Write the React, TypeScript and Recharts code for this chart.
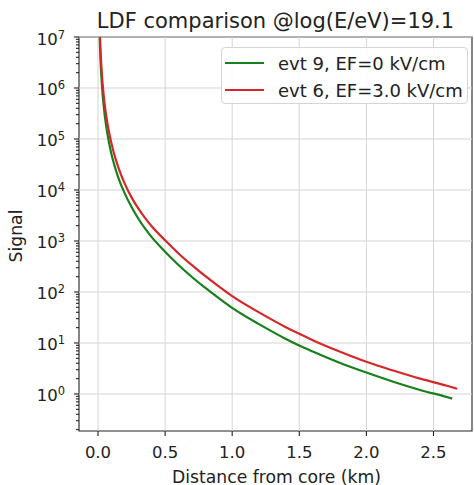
import React from 'react';
import {
  LineChart,
  Line,
  XAxis,
  YAxis,
  ReferenceLine,
  ReferenceArea,
  Legend,
  Customized,
} from 'recharts';

const TITLE = 'LDF comparison @log(E/eV)=19.1';
const X_LABEL = 'Distance from core (km)';
const Y_LABEL = 'Signal';
const SERIES_NAMES = ['evt 9, EF=0 kV/cm', 'evt 6, EF=3.0 kV/cm'];
const SERIES_COLORS = ['#16801a', '#d62728'];

const X_TICKS = [0, 0.5, 1.0, 1.5, 2.0, 2.5];
const X_TICK_LABELS = ['0.0', '0.5', '1.0', '1.5', '2.0', '2.5'];
const Y_EXPONENTS = [0, 1, 2, 3, 4, 5, 6, 7];
const Y_MINOR_MANTISSAS = [2, 3, 4, 5, 6, 7, 8, 9];

const X_DOMAIN: [number, number] = [-0.1416, 2.787];
const Y_DOMAIN: [number, number] = [0.188, 1e7];

// evt 9, EF=0
const RADIUS_EVT9 = [0.01, 0.015, 0.02, 0.03, 0.04, 0.05, 0.07, 0.1, 0.12, 0.15, 0.2, 0.25, 0.3, 0.35, 0.4, 0.5, 0.6, 0.7, 0.8, 0.9, 1.0, 1.2, 1.4, 1.5, 1.6, 1.8, 2.0, 2.2, 2.4, 2.6, 2.64];
const SIGNAL_EVT9 = [1.78e7, 6.3e6, 3.0e6, 1.07e6, 5.2e5, 2.95e5, 1.26e5, 5.1e4, 3.2e4, 1.79e4, 8470, 4630, 2760, 1760, 1190, 617, 339, 197, 120, 76, 49, 23.4, 12.0, 8.9, 6.8, 4.1, 2.63, 1.74, 1.2, 0.87, 0.81];

// evt 6, EF=3.0
const RADIUS_EVT6 = [0.01, 0.015, 0.02, 0.03, 0.04, 0.05, 0.07, 0.1, 0.12, 0.15, 0.2, 0.25, 0.3, 0.35, 0.4, 0.5, 0.6, 0.7, 0.8, 0.9, 1.0, 1.2, 1.4, 1.5, 1.6, 1.8, 2.0, 2.2, 2.4, 2.6, 2.677];
const SIGNAL_EVT6 = [2.6e7, 9.5e6, 4.7e6, 1.7e6, 8.3e5, 4.7e5, 2.04e5, 8.3e4, 5.13e4, 2.84e4, 1.32e4, 7160, 4345, 2845, 1945, 1030, 569, 335, 204, 129, 83, 39.8, 20.4, 15.1, 11.35, 6.8, 4.27, 2.88, 2.0, 1.45, 1.27];

const evt9 = RADIUS_EVT9.map((r, i) => ({ r, s: SIGNAL_EVT9[i] }));
const evt6 = RADIUS_EVT6.map((r, i) => ({ r, s: SIGNAL_EVT6[i] }));

const majorTicks = Y_EXPONENTS.map((e) => Math.pow(10, e));
const minorTicks: number[] = [];
[-1, ...Y_EXPONENTS].forEach((e) =>
  Y_MINOR_MANTISSAS.forEach((m) => {
    const v = m * Math.pow(10, e);
    if (v >= Y_DOMAIN[0] && v <= Y_DOMAIN[1]) minorTicks.push(v);
  })
);
const yTicks = [...majorTicks, ...minorTicks].sort((a, b) => a - b);

const FONT = '"DejaVu Sans", sans-serif';
const INK = '#222';

const YTick = (props: any) => {
  const { x, y, payload } = props;
  const exp = Math.log10(payload.value);
  const major = Math.abs(exp - Math.round(exp)) < 1e-6;
  return (
    <g>
      <line x1={x - (major ? 5 : 3)} x2={x} y1={y} y2={y} stroke={INK} strokeWidth={1.1} />
      {major && (
        <text x={x - 14} y={y + 7.5} textAnchor="end" fontSize={16.5} fontFamily={FONT} fill={INK}>
          <tspan>10</tspan>
          <tspan dy={-6} fontSize={11.5}>{Math.round(exp)}</tspan>
        </text>
      )}
    </g>
  );
};

const XTick = (props: any) => {
  const { x, y, payload, index } = props;
  return (
    <g>
      <line x1={x} x2={x} y1={y} y2={y + 5} stroke={INK} strokeWidth={1.1} />
      <text x={x} y={y + 27} textAnchor="middle" fontSize={16.5} fontFamily={FONT} fill={INK}>
        {X_TICK_LABELS[index] ?? payload.value}
      </text>
    </g>
  );
};

const LegendBox = (props: any) => {
  const items = [...(props.payload || [])].sort(
    (a: any, b: any) => SERIES_NAMES.indexOf(a.value) - SERIES_NAMES.indexOf(b.value)
  );
  return (
    <div
      style={{
        boxSizing: 'border-box',
        width: 247,
        height: 57,
        border: '1px solid #d5d5d5',
        borderRadius: 4,
        background: 'rgba(255,255,255,0.85)',
        fontFamily: FONT,
        fontSize: 18,
        color: INK,
        position: 'relative',
      }}
    >
      {items.map((it: any, i: number) => (
        <div key={i} style={{ position: 'absolute', left: 3, top: 4 + i * 27, height: 22, display: 'flex', alignItems: 'center' }}>
          <svg width={40} height={22}>
            <line x1={0} x2={39} y1={11} y2={11} stroke={it.color} strokeWidth={2.2} />
          </svg>
          <span style={{ marginLeft: 13, whiteSpace: 'nowrap' }}>{it.value}</span>
        </div>
      ))}
    </div>
  );
};

const Texts = () => (
  <g fontFamily={FONT} fill={INK}>
    <text x={275.5} y={28.3} textAnchor="middle" fontSize={21}>{TITLE}</text>
    <text x={276.5} y={482.5} textAnchor="middle" fontSize={17.2}>{X_LABEL}</text>
    <text x={22} y={236} textAnchor="middle" fontSize={17.2} transform="rotate(-90, 22, 236)">{Y_LABEL}</text>
  </g>
);

export default function App() {
  return (
    <div style={{ position: 'absolute', left: 0, top: 0, background: '#fff' }}>
      <LineChart width={474} height={485} margin={{ top: 37, right: 2, bottom: 0, left: 0 }}>
        <XAxis
          dataKey="r"
          type="number"
          domain={X_DOMAIN}
          allowDataOverflow
          ticks={X_TICKS}
          interval={0}
          axisLine={false}
          tickLine={false}
          tickSize={0}
          tickMargin={0}
          height={54}
          tick={<XTick />}
        />
        <YAxis
          dataKey="s"
          type="number"
          scale="log"
          domain={Y_DOMAIN}
          allowDataOverflow
          ticks={yTicks}
          interval={0}
          axisLine={false}
          tickLine={false}
          tickSize={0}
          tickMargin={0}
          width={79}
          tick={<YTick />}
        />
        {majorTicks.map((v) => (
          <ReferenceLine key={'h' + v} y={v} stroke="#d4d4d4" strokeWidth={1} />
        ))}
        {X_TICKS.map((v) => (
          <ReferenceLine key={'v' + v} x={v} stroke="#d4d4d4" strokeWidth={1} />
        ))}
        <Line data={evt9} dataKey="s" name={SERIES_NAMES[0]} type="monotone" stroke={SERIES_COLORS[0]} strokeWidth={2.2} dot={false} isAnimationActive={false} />
        <Line data={evt6} dataKey="s" name={SERIES_NAMES[1]} type="monotone" stroke={SERIES_COLORS[1]} strokeWidth={2.2} dot={false} isAnimationActive={false} />
        <ReferenceArea x1={X_DOMAIN[0]} x2={X_DOMAIN[1]} y1={Y_DOMAIN[0]} y2={Y_DOMAIN[1]} fill="none" stroke={INK} strokeWidth={1.1} />
        <Legend
          layout="vertical"
          align="center"
          verticalAlign="middle"
          wrapperStyle={{ left: 221, top: 47, width: 247, height: 57 }}
          content={<LegendBox />}
        />
        <Customized component={Texts} />
      </LineChart>
    </div>
  );
}
